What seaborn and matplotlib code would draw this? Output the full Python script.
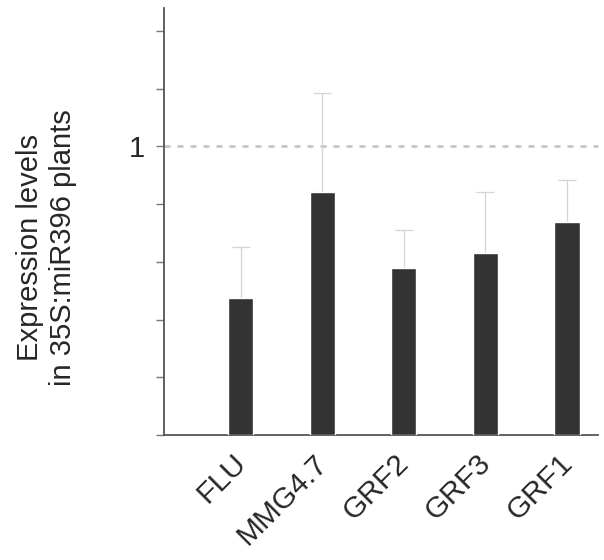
import matplotlib
matplotlib.use('Agg')
import matplotlib.pyplot as plt
import matplotlib.transforms as mtransforms
import seaborn as sns
import pandas as pd
import numpy as np

genes = ['FLU', 'MMG4.7', 'GRF2', 'GRF3', 'GRF1']
expression = [0.474, 0.843, 0.58, 0.63, 0.74]
error_up = [0.176, 0.344, 0.13, 0.213, 0.143]
ytick_values = [0, 0.2, 0.4, 0.6, 0.8, 1.0, 1.2, 1.4]
ytick_labels = ['', '', '', '', '', '1', '', '']

sns.set_style('ticks')
plt.rcParams['font.family'] = ['Liberation Sans', 'DejaVu Sans']

df = pd.DataFrame({'gene': genes, 'expr': expression})

fig = plt.figure(figsize=(6.04, 5.60), dpi=100)
ax = fig.add_axes([0.2715, 0.2232, 0.7185, 0.7625])

sns.barplot(data=df, x='gene', y='expr', color='#333333', width=0.31,
            errorbar=None, saturation=1, ax=ax, zorder=3)

# upper error bars only
pos = np.arange(len(genes))
ax.errorbar(pos, expression, yerr=[np.zeros(len(genes)), error_up],
            fmt='none', ecolor='#d4d4d4', elinewidth=0.9, capsize=6.5,
            capthick=0.9, zorder=2)

ax.axhline(1.0, color='#c0c0c0', linestyle=(0, (2.4, 2.8)), linewidth=1.8,
           zorder=1, clip_on=False)

ax.set_ylim(0, 1.48)
ax.set_xlim(-0.94, 4.38)
ax.set_yticks(ytick_values)
ax.set_yticklabels(ytick_labels, fontsize=21)
ax.tick_params(axis='y', length=6, width=1, color='#777777', pad=8)
ax.tick_params(axis='x', length=0, pad=10)
ax.set_xticks(pos)
ax.set_xticklabels(genes, rotation=45, ha='right', va='top',
                   rotation_mode='anchor', fontsize=21.5)
shift = mtransforms.ScaledTranslation(-0.09, 0, fig.dpi_scale_trans)
for lbl in ax.get_xticklabels():
    lbl.set_transform(lbl.get_transform() + shift)

ax.set_xlabel('')
ax.set_ylabel('Expression levels\nin 35S:miR396 plants', fontsize=21,
              linespacing=1.25)
ax.yaxis.set_label_coords(-0.2, 0.44)

sns.despine(ax=ax)
for s in ['left', 'bottom']:
    ax.spines[s].set_color('#555555')
    ax.spines[s].set_linewidth(1.3)

plt.savefig('out.png', dpi=100)
plt.close()
